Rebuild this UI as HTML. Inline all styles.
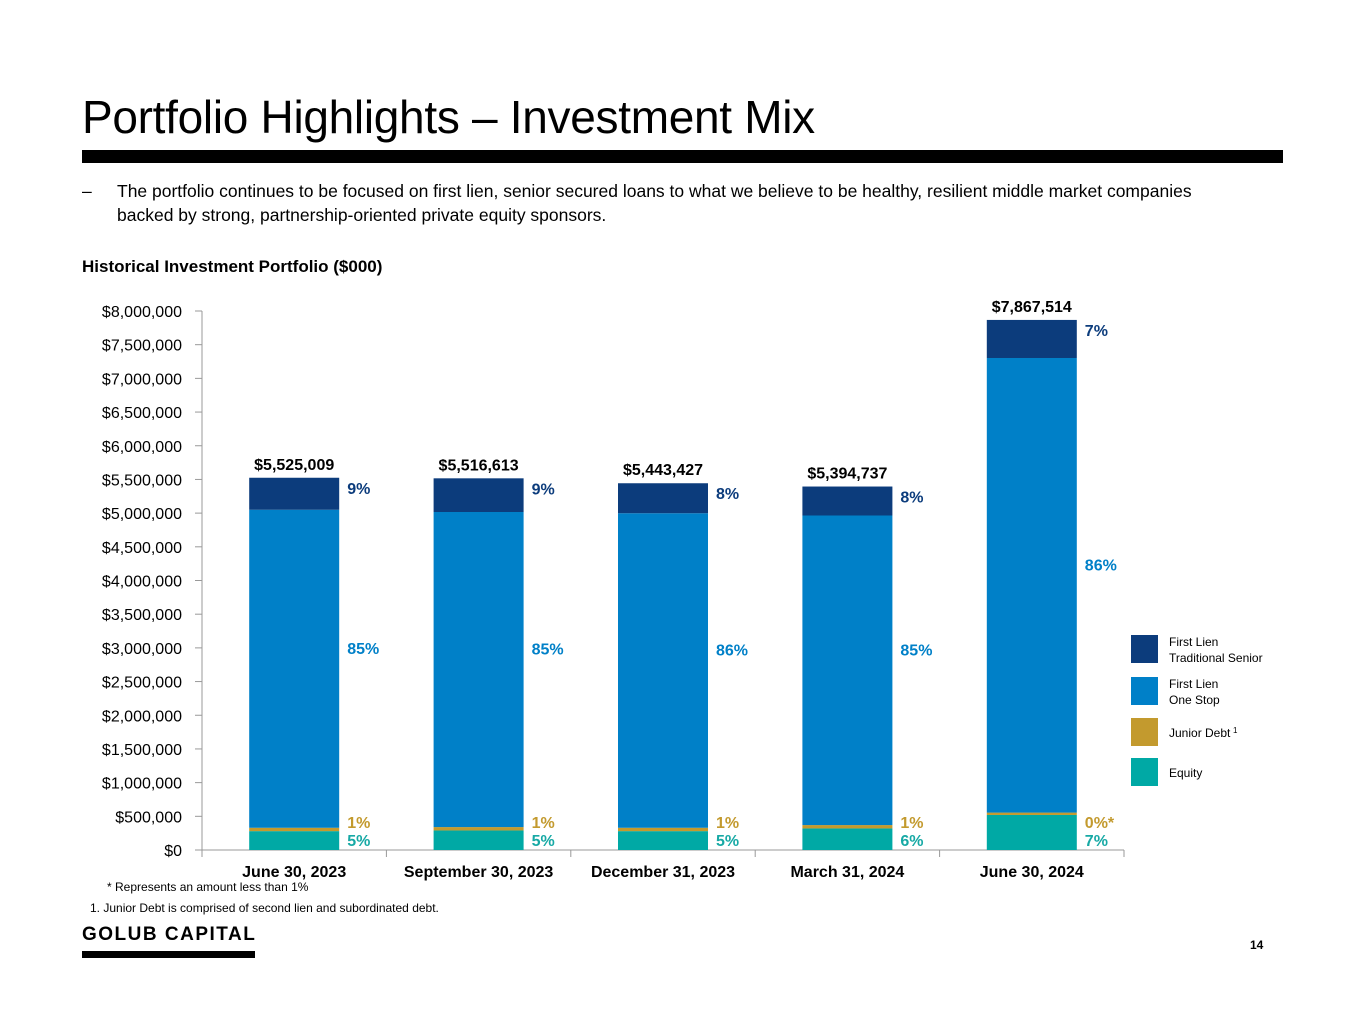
<!DOCTYPE html>
<html><head><meta charset="utf-8"><style>
body{margin:0;width:1365px;height:1024px;background:#fff;font-family:"Liberation Sans",sans-serif;position:relative;overflow:hidden}
.abs{position:absolute}
</style></head><body>
<div class="abs" style="left:82px;top:90px;font-size:46px;color:#000;letter-spacing:-0.3px">Portfolio Highlights – Investment Mix</div>
<div class="abs" style="left:82px;top:150px;width:1201px;height:13px;background:#000"></div>
<div class="abs" style="left:82px;top:179px;font-size:17.5px;line-height:24px;color:#000"><span style="position:absolute;left:0">–</span><div style="margin-left:35px;width:1120px">The portfolio continues to be focused on first lien, senior secured loans to what we believe to be healthy, resilient middle market companies backed by strong, partnership-oriented private equity sponsors.</div></div>
<div class="abs" style="left:82px;top:257px;font-size:17px;font-weight:bold">Historical Investment Portfolio ($000)</div>
<svg class="abs" style="left:0;top:0" width="1365" height="1024" id="chart"></svg>
<div class="abs" style="left:107px;top:880px;font-size:12px">* Represents an amount less than 1%</div>
<div class="abs" style="left:90px;top:901px;font-size:12px">1.  Junior Debt is comprised of second lien and subordinated debt.</div>
<div class="abs" style="left:82px;top:924px;font-size:19px;font-weight:bold;letter-spacing:1.5px">GOLUB CAPITAL</div>
<div class="abs" style="left:82px;top:951px;width:173px;height:7px;background:#000"></div>
<div class="abs" style="left:1250px;top:938px;font-size:12px;font-weight:bold">14</div>
<script>
const categories=["June 30, 2023","September 30, 2023","December 31, 2023","March 31, 2024","June 30, 2024"];
const totals=["$5,525,009","$5,516,613","$5,443,427","$5,394,737","$7,867,514"];
const equity=[280000,290000,280000,320000,520000];
const junior=[50000,50000,50000,50000,35000];
const oneStop=[4720009,4676613,4668427,4594737,6747514];
const traditional=[475000,500000,445000,430000,565000];
const pctEquity=["5%","5%","5%","6%","7%"];
const pctJunior=["1%","1%","1%","1%","0%*"];
const pctOneStop=["85%","85%","86%","85%","86%"];
const pctTrad=["9%","9%","8%","8%","7%"];
const yTicks=[0,500000,1000000,1500000,2000000,2500000,3000000,3500000,4000000,4500000,5000000,5500000,6000000,6500000,7000000,7500000,8000000];
const svg=document.getElementById('chart');const NS="http://www.w3.org/2000/svg";
const y0=850,y1=311,x0=202,x1=1124;
const y=v=>y0-(v/8000000)*(y0-y1);
const band=(x1-x0)/categories.length;
const xc=i=>x0+band*(i+0.5);
function mk(t,a,txt){const e=document.createElementNS(NS,t);for(const k in a)e.setAttribute(k,a[k]);if(txt!=null)e.textContent=txt;svg.appendChild(e);return e;}
const fmt=v=>"$"+v.toLocaleString("en-US");
let e=mk('line',{x1:x0,y1:y1,x2:x0,y2:y0,stroke:'#999'});

e=mk('line',{x1:x0,y1:y0,x2:x1,y2:y0,stroke:'#999'});

yTicks.forEach(v=>{
 const t=mk('line',{x1:195,x2:x0,y1:y(v),y2:y(v),stroke:'#999'});
 
 const l=mk('text',{x:182,y:y(v)+6,'text-anchor':'end','font-size':16,fill:'#000'},fmt(v));
 
});
for(let i=0;i<=categories.length;i++){const t=mk('line',{x1:x0+band*i,x2:x0+band*i,y1:y0,y2:y0+7,stroke:'#999'});
 }
const series=[[equity,'#00a9a5',pctEquity,'equity'],[junior,'#c39a2e',pctJunior,'junior-debt'],[oneStop,'#0080c8',pctOneStop,'one-stop'],[traditional,'#0c3c7c',pctTrad,'traditional-senior']];
categories.forEach((c,i)=>{
 let base=0;const bx=xc(i)-45;const tops=[];
 series.forEach(([arr,col,p,n])=>{
  const r=mk('rect',{x:bx,width:90,y:y(base+arr[i]),height:y(base)-y(base+arr[i]),fill:col});
  
  tops.push([base,base+arr[i]]);base+=arr[i];
 });
 const lx=bx+98;
 let t=mk('text',{x:lx,y:y0-4,'font-size':16,'font-weight':'bold',fill:'#17a9a5'},pctEquity[i]);
 
 t=mk('text',{x:lx,y:y0-22,'font-size':16,'font-weight':'bold',fill:'#c39a2e'},pctJunior[i]);
 
 t=mk('text',{x:lx,y:(y(tops[2][0])+y(tops[2][1]))/2-15,'font-size':16,'font-weight':'bold',fill:'#0080c8'},pctOneStop[i]);
 
 t=mk('text',{x:lx,y:y(tops[3][1])+16,'font-size':16,'font-weight':'bold',fill:'#0c3c7c'},pctTrad[i]);
 
 t=mk('text',{x:xc(i),y:y(base)-8,'font-size':16,'font-weight':'bold','text-anchor':'middle'},totals[i]);
 
 t=mk('text',{x:xc(i),y:877,'font-size':16,'font-weight':'bold','text-anchor':'middle'},c);
 
});
const legend=[['#0c3c7c',['First Lien','Traditional Senior'],635],['#0080c8',['First Lien','One Stop'],677],['#c39a2e',['Junior Debt'],718],['#00a9a5',['Equity'],758]];
legend.forEach(([col,lines,ly])=>{
 const r=mk('rect',{x:1131,y:ly,width:27,height:28,fill:col});
 
 const off=lines.length==2?11:19;
 lines.forEach((s,k)=>{const t=mk('text',{x:1169,y:ly+off+k*16,'font-size':12},s);
  });
});
const sup=mk('text',{x:1233,y:733,'font-size':8},'1');

</script>
</body></html>
